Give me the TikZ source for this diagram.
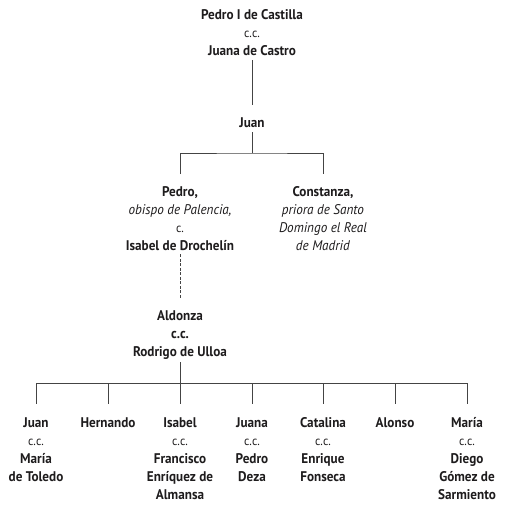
\documentclass[tikz,border=0pt]{standalone}
\usepackage{fontspec}
\setmainfont{PT Sans}[FakeStretch=0.94]
\usetikzlibrary{positioning}
\definecolor{ink}{HTML}{1E1C1D}
\definecolor{rule}{HTML}{444444}
\newcommand\ccmark{{\fontsize{12.5}{18}\selectfont c.c.}}
\newcommand\cmark{{\fontsize{12.5}{18}\selectfont c.}}

\begin{document}
\begin{tikzpicture}[x=1pt,y=-1pt,
  person/.style={align=center,font=\fontsize{14}{18}\selectfont,text=ink,inner sep=0pt,anchor=base},
  line/.style={draw=rule,line width=0.9pt},
  ]
\useasboundingbox (0,0) rectangle (508,508);
% ancestors (anchor = baseline of the last line)
\node[person] (pedroI) at (252,56) {\textbf{Pedro I de Castilla}\\\ccmark\\\textbf{Juana de Castro}};
\node[person] (juan) at (252,127) {\textbf{Juan}};
\node[person] (pedro) at (180,250) {\textbf{Pedro,}\\\textit{obispo de Palencia,}\\\cmark\\\textbf{Isabel de Drochelín}};
\node[person] (constanza) at (323,250) {\textbf{Constanza,}\\\textit{priora de Santo}\\\textit{Domingo el Real}\\\textit{de Madrid}};
\node[person] (aldonza) at (180,356) {\textbf{Aldonza}\\\textbf{c.c.}\\\textbf{Rodrigo de Ulloa}};
% children
\foreach \n/\x/\y/\t in {
  juanh/36/481/{\textbf{Juan}\\\ccmark\\\textbf{María}\\\textbf{de Toledo}},
  hernando/108/427/{\textbf{Hernando}},
  isabel/180/499/{\textbf{Isabel}\\\ccmark\\\textbf{Francisco}\\\textbf{Enríquez de}\\\textbf{Almansa}},
  juana/252/481/{\textbf{Juana}\\\ccmark\\\textbf{Pedro}\\\textbf{Deza}},
  catalina/323/481/{\textbf{Catalina}\\\ccmark\\\textbf{Enrique}\\\textbf{Fonseca}},
  alonso/395/427/{\textbf{Alonso}},
  maria/467/499/{\textbf{María}\\\ccmark\\\textbf{Diego}\\\textbf{Gómez de}\\\textbf{Sarmiento}}}
  \node[person] (\n) at (\x,\y) {\t};
% connectors
\coordinate (juanfork) at (252,153);
\coordinate (pedrodrop) at (252,174);
\coordinate (kidsbar) at (180,383);
\coordinate (kidsdrop) at (180,404);
\draw[line] (pedroI.south) ++(0,4) -- (juan.north |- 0,105);
\draw[line] (juan.south) ++(0,5) -- (juanfork);
\draw[line] (pedro.north |- pedrodrop) |- (juanfork) -| (constanza.north |- pedrodrop);
\draw[line,dash pattern=on 3pt off 1.5pt] (pedro.south) ++(0,4) -- (aldonza.north |- 0,298);
\draw[line] (aldonza.south) ++(0,3) -- (kidsbar);
\draw[line] (juanh.north |- kidsbar) -- (maria.north |- kidsbar);
\foreach \n in {juanh,hernando,isabel,juana,catalina,alonso,maria}
  \draw[line] (\n.north |- kidsbar) -- (\n.north |- kidsdrop);
\end{tikzpicture}
\end{document}
